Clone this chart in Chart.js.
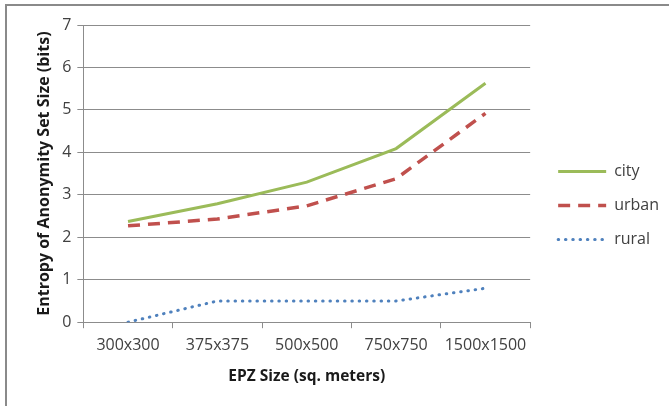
<!DOCTYPE html>
<html>
<head>
<meta charset="utf-8">
<script src="https://cdn.jsdelivr.net/npm/chart.js@4.4.1/dist/chart.umd.min.js"></script>
<style>
  html, body { margin: 0; padding: 0; background: #fff; }
  #wrap { position: relative; width: 669px; height: 406px; overflow: hidden; }
  #frame { position: absolute; left: 5px; top: 4px; width: 700px; height: 440px;
    border-top: 2px solid #8a8a8a; border-left: 2px solid #8a8a8a; pointer-events: none; }
  canvas { position: absolute; left: 0; top: 0; }
</style>
</head>
<body>
<div id="wrap">
  <canvas id="chart" width="669" height="406"></canvas>
  <div id="frame"></div>
</div>
<script>
// chart data
const categories = ["300x300", "375x375", "500x500", "750x750", "1500x1500"];
const cityValues = [2.37, 2.79, 3.3, 4.09, 5.63];
const urbanValues = [2.27, 2.43, 2.74, 3.38, 4.92];
const ruralValues = [0, 0.5, 0.5, 0.5, 0.8];
const yTicks = [0, 1, 2, 3, 4, 5, 6, 7];

const FONT = "'Open Sans', 'Liberation Sans', sans-serif";
const gridColor = "#8c8c8c";

document.addEventListener("DOMContentLoaded", async () => {
  // make sure the canvas measures text with the real font
  try {
    await Promise.all([
      document.fonts.load("16px 'Open Sans'"),
      document.fonts.load("bold 16px 'Open Sans'"),
    ]);
  } catch (e) {
    console.error("font load failed", e);
  }

  const ctx = document.getElementById("chart").getContext("2d");
  new Chart(ctx, {
    type: "line",
    data: {
      labels: categories,
      datasets: [
        {
          label: "city",
          data: cityValues,
          borderColor: "#9BBB59",
          backgroundColor: "#9BBB59",
          borderWidth: 3,
          pointRadius: 0,
          tension: 0,
        },
        {
          label: "urban",
          data: urbanValues,
          borderColor: "#C0504D",
          backgroundColor: "#C0504D",
          borderWidth: 3.5,
          borderDash: [12, 8],
          pointRadius: 0,
          tension: 0,
        },
        {
          label: "rural",
          data: ruralValues,
          borderColor: "#4F81BD",
          backgroundColor: "#4F81BD",
          borderWidth: 3,
          borderDash: [0.5, 6.8],
          borderCapStyle: "round",
          pointRadius: 0,
          tension: 0,
        },
      ],
    },
    options: {
      responsive: false,
      animation: false,
      layout: { padding: { left: 33, top: 25, bottom: 20, right: 0 } },
      plugins: {
        tooltip: { enabled: false },
        legend: {
          position: "right",
          maxWidth: 200,
          labels: {
            usePointStyle: true,
            pointStyle: "line",
            pointStyleWidth: 48,
            padding: 18,
            color: "#404040",
            font: { family: FONT, size: 16 },
            // point style loses the dataset dash, put it back
            generateLabels: (chart) => {
              const items = Chart.defaults.plugins.legend.labels.generateLabels(chart);
              items.forEach((item) => {
                const ds = chart.data.datasets[item.datasetIndex];
                item.lineDash = ds.borderDash || [];
                item.lineCap = ds.borderCapStyle || "butt";
                item.lineWidth = ds.borderWidth;
                item.strokeStyle = ds.borderColor;
              });
              return items;
            },
          },
        },
      },
      scales: {
        x: {
          offset: true,
          grid: { display: true, drawOnChartArea: false, drawTicks: true, tickLength: 6, color: gridColor, offset: true },
          border: { display: true, color: gridColor, width: 1 },
          ticks: { color: "#404040", padding: 8, maxRotation: 0, font: { family: FONT, size: 16 } },
          title: {
            display: true,
            text: "EPZ Size (sq. meters)",
            color: "#1a1a1a",
            padding: { top: 4, bottom: 0 },
            font: { family: FONT, size: 15.5, weight: "bold" },
          },
        },
        y: {
          min: 0,
          max: 7,
          afterBuildTicks: (scale) => { scale.ticks = yTicks.map((v) => ({ value: v })); },
          grid: { color: gridColor, tickLength: 6 },
          border: { display: true, color: gridColor, width: 1 },
          ticks: { color: "#404040", padding: 6, font: { family: FONT, size: 16 } },
          title: {
            display: true,
            text: "Entropy of Anonymity Set Size (bits)",
            color: "#1a1a1a",
            padding: { top: 2, bottom: 2 },
            font: { family: FONT, size: 16, weight: "bold" },
          },
        },
        // empty spacer between plot area and legend
        gap: {
          type: "linear",
          position: "right",
          display: true,
          grid: { display: false },
          border: { display: false },
          ticks: { display: false },
          afterFit: (scale) => { scale.width = 10; },
        },
      },
    },
  });
});
</script>
</body>
</html>
